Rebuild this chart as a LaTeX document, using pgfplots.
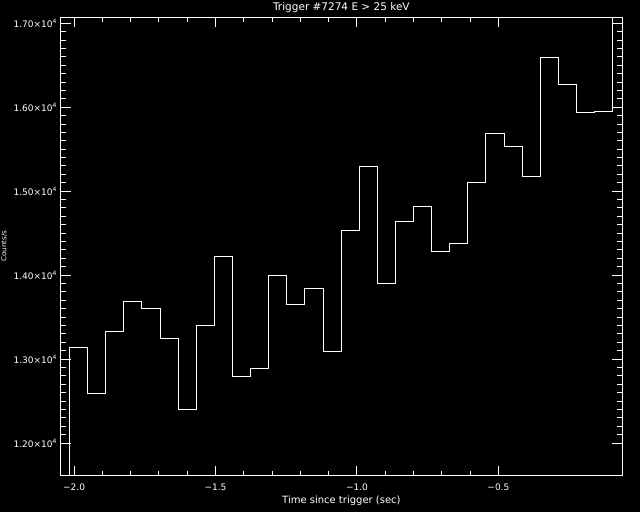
\documentclass[border=0pt]{standalone}
\usepackage{fontspec}
\setmainfont{DejaVu Sans}
\usepackage{pgfplots}
\pgfplotsset{compat=1.18}
\begin{document}
\begin{tikzpicture}[x=1pt,y=1pt]
\fill[black] (0,0) rectangle (640,512);
\useasboundingbox (0,0) rectangle (640,512);
\node[rotate=90, anchor=north, inner sep=0.5pt, white, font=\fontsize{7}{8}\selectfont] at (0.5,266) {Counts/s};
\begin{axis}[
  at={(60.5pt,36.5pt)}, anchor=south west,
  scale only axis, width=561.8pt, height=458pt,
  xmin=-2.048, xmax=-0.062, ymin=11613, ymax=17069,
  axis line style={white, line width=1pt},
  tick style={white, line width=1pt},
  tick align=inside,
  major tick length=10pt, minor tick length=5pt,
  xtick={-2,-1.5,-1,-0.5},
  xticklabels={−2.0,−1.5,−1.0,−0.5},
  minor x tick num=4,
  ytick={12000,13000,14000,15000,16000,17000},
  yticklabels={1.20×10\textsuperscript{4},1.30×10\textsuperscript{4},1.40×10\textsuperscript{4},1.50×10\textsuperscript{4},1.60×10\textsuperscript{4},1.70×10\textsuperscript{4}},
  minor y tick num=9,
  scaled ticks=false,
  tick label style={white, font=\fontsize{9}{10}\selectfont},
  xticklabel style={anchor=base, yshift=-14.5pt},
  yticklabel style={anchor=base east, yshift=-4pt},
  every axis title shift=0pt,
  title={Trigger \#7274 E > 25 keV},
  title style={at={(axis description cs:0.5,1)}, anchor=base, yshift=6.5pt, white, font=\fontsize{10.5}{12}\selectfont},
  xlabel={Time since trigger (sec)},
  xlabel style={at={(axis description cs:0.5,0)}, anchor=base, yshift=-28pt, white, font=\fontsize{10}{12}\selectfont},
]
\addplot[white, line width=1pt, const plot mark left] coordinates {
(-2.080, 11000)
(-2.016, 13139)
(-1.952, 12592)
(-1.888, 13330)
(-1.824, 13687)
(-1.760, 13603)
(-1.696, 13246)
(-1.632, 12401)
(-1.568, 13401)
(-1.504, 14223)
(-1.440, 12794)
(-1.376, 12889)
(-1.312, 13996)
(-1.248, 13651)
(-1.184, 13842)
(-1.120, 13092)
(-1.056, 14532)
(-0.992, 15298)
(-0.928, 13901)
(-0.864, 14639)
(-0.800, 14818)
(-0.736, 14282)
(-0.672, 14377)
(-0.608, 15104)
(-0.544, 15687)
(-0.480, 15532)
(-0.416, 15179)
(-0.352, 16592)
(-0.288, 16270)
(-0.224, 15937)
(-0.160, 15952)
(-0.096, 18000)
(-0.032, 18000)
};
\end{axis}
\end{tikzpicture}
\end{document}
